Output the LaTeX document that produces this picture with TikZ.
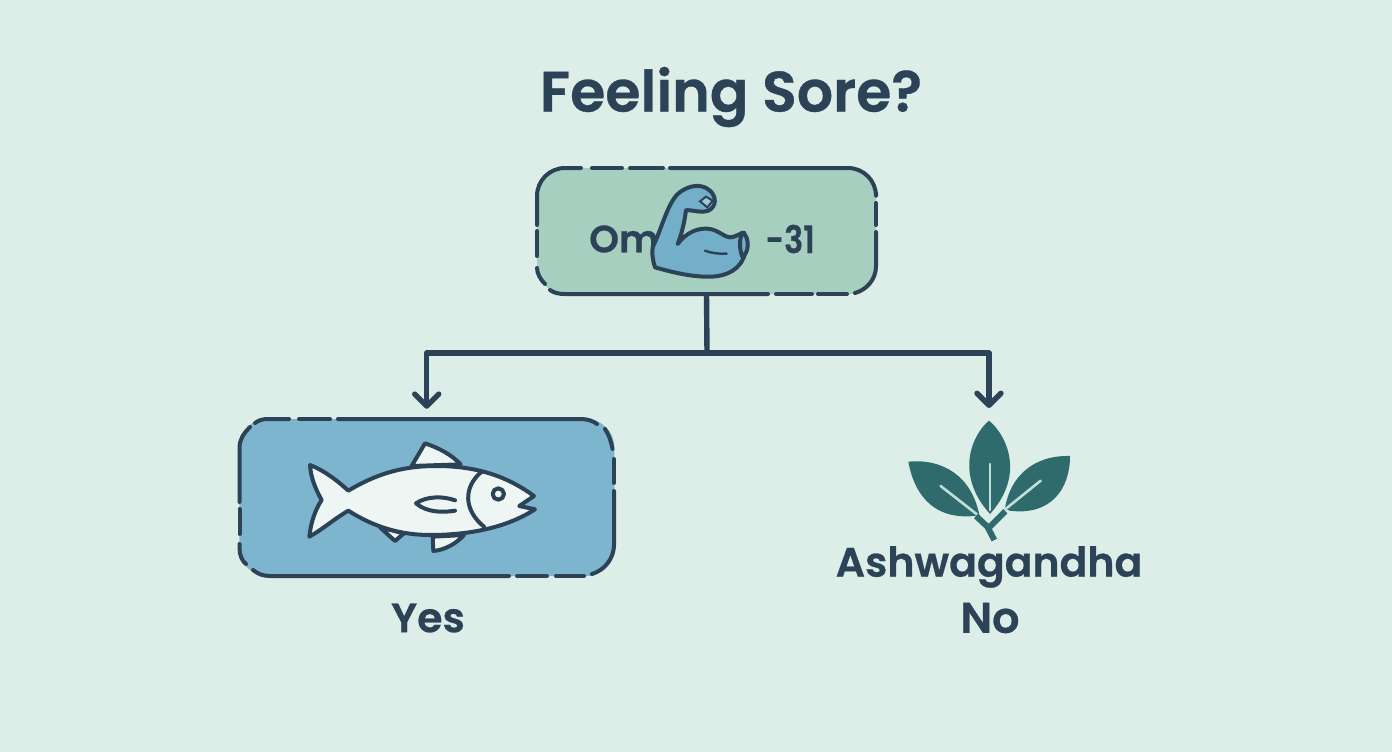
\documentclass[tikz,border=0pt]{standalone}
\usepackage{fontspec}
\setmainfont{Poppins SemiBold}[FakeBold=0.6]
\usetikzlibrary{arrows.meta}
\definecolor{bgc}{HTML}{DDEDE7}
\definecolor{boxa}{HTML}{A6CFBF}
\definecolor{boxb}{HTML}{7DB4CE}
\definecolor{ink}{HTML}{2C4256}
\definecolor{leafc}{HTML}{2F6A6C}
\definecolor{veinc}{HTML}{BFE0D8}
\definecolor{fishc}{HTML}{EEF6F4}
\definecolor{armc}{HTML}{74AFC9}
\tikzset{
  x=1pt,y=-1pt,
  card/.style={rounded corners=28pt,inner sep=0pt,draw=none},
  dashseg/.style={draw=ink,line width=4pt,line cap=round,line join=round},
  link/.style={draw=ink,line width=5.4pt,line join=round},
  flow/.style={link,-{Straight Barb[length=12pt,width=24pt,round]},shorten >=10pt},
  label/.style={text=ink,inner sep=0pt},
  outline/.style={draw=ink,line width=4pt,line join=round,line cap=round},
  vein/.style={draw=veinc,line width=2.6pt,line cap=round},
}
\begin{document}
\begin{tikzpicture}
\fill[bgc] (0,0) rectangle (1392,752);
\useasboundingbox (0,0) rectangle (1392,752);

\node[label,font=\fontsize{57}{57}\selectfont] (title) at (731,97) {Feeling Sore?};

% cards
\node[card,fill=boxa,minimum width=339pt,minimum height=126pt] (omega) at (706.5,231) {};
\node[card,fill=boxb,minimum width=375pt,minimum height=157pt] (yescard) at (426.75,497.5) {};

% dashed border, upper card
\draw[dashseg,rounded corners=28pt] (537,225)--(537,168)--(581,168);
\draw[dashseg] (592,168)--(622,168);
\draw[dashseg] (630,168)--(663,168);
\draw[dashseg,rounded corners=28pt] (670,168)--(876,168)--(876,194);
\draw[dashseg] (876,203)--(876,225);
\draw[dashseg] (876,232)--(876,266) .. controls (876,280) and (866,290) .. (855,293);
\draw[dashseg] (847,294)--(818,294);
\draw[dashseg] (812,294)--(776,294);
\draw[dashseg] (768,294)--(565,294) .. controls (559,294) and (554,293) .. (550,290);
\draw[dashseg] (545,284) .. controls (541,280) and (537,274) .. (537,268);
\draw[dashseg] (537,256)--(537,231);

% dashed border, lower card
\draw[dashseg] (255,423) .. controls (259,420) and (263,419) .. (268,419) -- (289,419);
\draw[dashseg] (299,419)--(330,419);
\draw[dashseg] (338,419)--(580,419) .. controls (588,419) and (593,421) .. (597,424);
\draw[dashseg] (605,429) .. controls (609,435) and (611,441) .. (612.5,449);
\draw[dashseg] (614,459)--(614,483);
\draw[dashseg] (614,491)--(614,545) .. controls (614,558) and (605,570) .. (592,574);
\draw[dashseg] (584,576)--(556,576);
\draw[dashseg] (547,576)--(517,576);
\draw[dashseg] (509,576)--(270,576) .. controls (263,576) and (258,574) .. (253,570);
\draw[dashseg] (246,564) .. controls (242,561) and (239.5,555) .. (239.5,548) -- (239.5,544);
\draw[dashseg] (239.5,534)--(239.5,509);
\draw[dashseg] (239.5,502)--(239.5,448) .. controls (239.5,440) and (243,434) .. (250,427);

% upper card text
\node[label,font=\fontsize{38}{38}\selectfont,anchor=west] (om) at (589,239) {Om};
\node[label,font=\fontsize{38}{38}\selectfont,anchor=east,xscale=.84] (num) at (815,239) {-31};

% muscle icon
\begin{scope}[shift={(530,160)},scale=1/3]
  \draw[outline,fill=armc]
    (368,262) .. controls (395,205) and (410,140) .. (440,105)
    .. controls (465,80) and (510,65) .. (540,92)
    .. controls (560,110) and (560,140) .. (535,152)
    .. controls (510,160) and (490,150) .. (468,150)
    .. controls (465,175) and (458,215) .. (443,252)
    .. controls (470,215) and (510,200) .. (545,208)
    .. controls (570,215) and (585,232) .. (600,232)
    .. controls (615,232) and (625,222) .. (642,218)
    .. controls (650,250) and (648,280) .. (640,295)
    .. controls (620,340) and (570,352) .. (530,350)
    .. controls (480,350) and (420,335) .. (375,322)
    .. controls (368,300) and (365,280) .. (368,262) -- cycle;
  \draw[draw=ink,line width=2pt,fill=armc!65!fishc] (510,124) -- (528,110) -- (548,122) -- (532,142) -- cycle;
  \draw[draw=ink,line width=2.4pt,line cap=round] (525,272) .. controls (545,280) and (570,282) .. (590,281);
  \draw[outline,fill=armc] (636,218) .. controls (628,240) and (628,265) .. (636,288)
    .. controls (658,285) and (660,225) .. (636,218) -- cycle;
\end{scope}

% connectors
\coordinate (split) at (707,353);
\coordinate (leaftop) at (989,418);
\draw[link] (omega.south) -- (split);
\draw[flow] (split) -| (yescard.north);
\draw[flow] (split) -| (leaftop);

% fish icon
\begin{scope}[shift={(280,420)},scale=1/3]
  \draw[outline,fill=fishc] (395,138) -- (435,70) .. controls (480,85) and (515,105) .. (542,133) -- cycle;
  \draw[outline,fill=fishc] (300,322) -- (345,363) -- (372,340) -- cycle;
  \draw[outline,fill=fishc] (458,350) -- (460,393) .. controls (495,390) and (530,370) .. (552,345) -- cycle;
  \draw[outline,fill=fishc]
    (90,135) .. controls (130,150) and (170,180) .. (205,212)
    .. controls (300,155) and (380,138) .. (470,138)
    .. controls (600,138) and (690,175) .. (762,228)
    -- (718,258) -- (765,268)
    .. controls (700,310) and (600,345) .. (450,345)
    .. controls (360,345) and (280,320) .. (205,272)
    .. controls (165,295) and (125,330) .. (88,350)
    .. controls (92,310) and (105,270) .. (125,240)
    .. controls (105,205) and (92,170) .. (90,135) -- cycle;
  \draw[outline] (605,155) .. controls (550,200) and (550,270) .. (612,320);
  \draw[outline] (655,222) circle[radius=17];
  \draw[outline] (525,241) .. controls (490,228) and (440,228) .. (408,250)
    .. controls (440,278) and (490,278) .. (525,272);
\end{scope}

% leaf icon
\begin{scope}[shift={(890,410)},scale=1/3]
  \fill[leafc] (297,32) .. controls (250,70) and (190,190) .. (300,312)
    .. controls (410,190) and (345,70) .. (297,32) -- cycle;
  \fill[leafc] (55,155) .. controls (160,145) and (245,200) .. (268,315)
    -- (252,318) .. controls (120,330) and (70,240) .. (55,155) -- cycle;
  \fill[leafc] (540,138) .. controls (430,135) and (360,200) .. (345,295)
    -- (358,302) .. controls (480,318) and (540,240) .. (540,138) -- cycle;
  \draw[vein] (300,162) -- (300,300);
  \draw[vein] (152,228) -- (262,314);
  \draw[vein] (452,212) -- (338,304);
  \draw[draw=leafc,line width=6pt,line join=round] (313,390) -- (292,350) -- (258,318);
  \draw[draw=leafc,line width=6pt] (298,352) -- (346,304);
\end{scope}

% labels
\node[label,font=\fontsize{41}{41}\selectfont] (yes) at (428,618) {Yes};
\node[label,font=\fontsize{41}{41}\selectfont] (ash) at (989,567) {Ashwagandha};
\node[label,font=\fontsize{43}{43}\selectfont] (no) at (990,618) {No};
\end{tikzpicture}
\end{document}
